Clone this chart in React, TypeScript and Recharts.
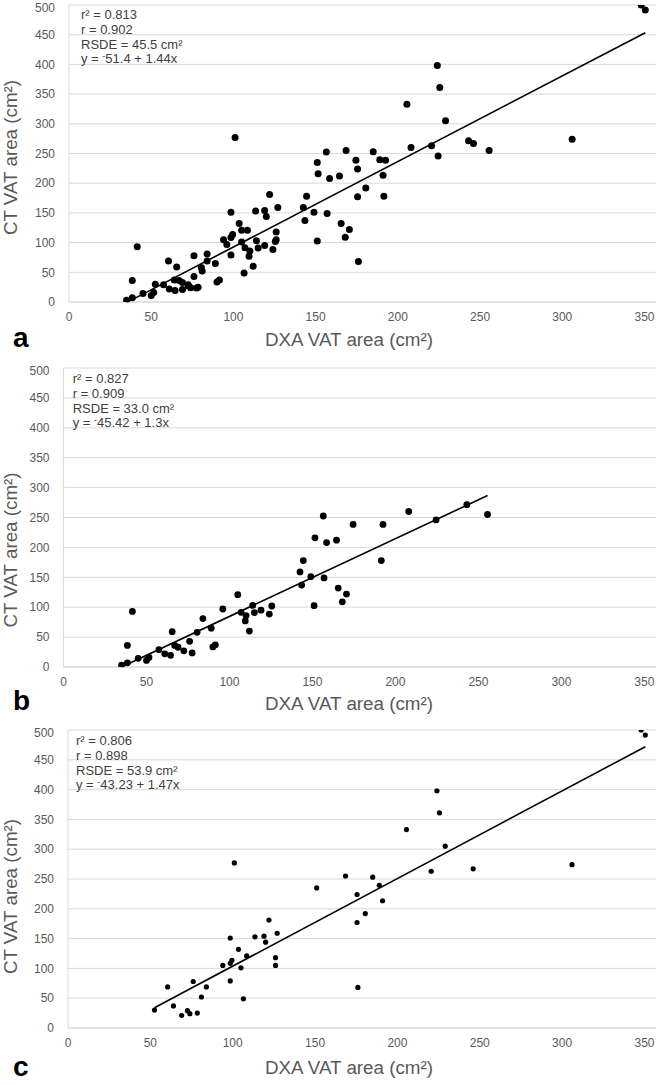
import React from 'react';
import { ScatterChart, Scatter, XAxis, YAxis, CartesianGrid, ReferenceLine, Label } from 'recharts';

const FONT = '"Liberation Sans", Arial, Helvetica, sans-serif';

const xTicks = [0, 50, 100, 150, 200, 250, 300, 350];
const yTicks = [0, 50, 100, 150, 200, 250, 300, 350, 400, 450, 500];

// Panel b: DXA VAT area (x) and CT VAT area (y)
const bDxa = [35, 38.5, 38.5, 41.5, 45, 50, 51.5, 57.5, 61, 64.5, 65.5, 67, 69, 72.5, 76, 77.5, 80.5, 84, 89, 90, 91.5, 96, 105, 107, 110, 109.5, 112, 114, 115, 119, 124, 125.5, 142.5, 144.5, 143.5, 149, 151, 151.5, 156.5, 157, 158.5, 164.5, 165.5, 168, 170.5, 174.5, 191.5, 192.5, 208, 224.5, 243, 255.5];
const bCt = [3, 7, 36, 93, 14.5, 11, 16, 29, 22, 19.5, 59, 36, 33, 27, 43, 23.5, 58, 81, 65, 33.5, 37, 97, 121, 91.5, 86, 77, 60, 103, 91, 95, 88.5, 102, 159, 178, 137, 151, 102.5, 216, 252.5, 149, 208, 212, 132, 109, 122, 238.5, 178, 238.5, 260, 246, 271.5, 255];

// Panel c
const cDxa = [52.5, 60.5, 64, 69, 72.5, 74, 78.5, 76, 81, 84, 94, 98.5, 98.5, 99.5, 98.5, 101, 103.5, 105, 106.5, 108.5, 113.5, 119, 120, 122, 127, 126, 126, 151, 168.5, 175.5, 175.5, 180.5, 185, 189, 191, 205.5, 220.5, 224, 225.5, 229, 246, 176, 306, 348, 350.5];
const cCt = [30, 69, 37, 21, 29, 24, 25, 78, 52, 69, 105, 79, 108.5, 113.5, 151, 277, 132, 101, 49, 121, 153, 154, 144, 181, 159, 118, 105, 235, 255, 224, 177, 192, 253, 239.5, 213.5, 333, 263, 398, 361, 305, 267, 68, 274, 500, 491.5];

const toPoints = (xs: number[], ys: number[]) => xs.map((x, i) => ({ x, y: ys[i] }));
const bPoints = toPoints(bDxa, bCt);
const cPoints = toPoints(cDxa, cCt);
// Panel a: all subjects
const aPoints = [...bPoints, ...cPoints];

const panelLetters = ['a', 'b', 'c'];
const r2Labels = ['0.813', '0.827', '0.806'];
const rLabels = ['0.902', '0.909', '0.898'];
const rsdeLabels = ['45.5', '33.0', '53.9'];
const intercepts = [-51.4, -45.42, -43.23];
const slopes = [1.44, 1.3, 1.47];
const interceptLabels = ['51.4', '45.42', '43.23'];
const slopeLabels = ['1.44', '1.3', '1.47'];

const xTitle = 'DXA VAT area (cm²)';
const yTitle = 'CT VAT area (cm²)';

const panelData = [aPoints, bPoints, cPoints];

// layout (pixels, page coordinates)
const layout = [
  { top: 0, height: 360, left: 69, right: 656, plotTop: 5, plotBottom: 302, dotR: 3.5, yTitleY: 157.5, statsX: 81, statsY: 19, letterY: 347, xTitleY: 346 },
  { top: 363, height: 362, left: 63.5, right: 656, plotTop: 368, plotBottom: 667, dotR: 3.4, yTitleY: 550, statsX: 72.7, statsY: 383, letterY: 710, xTitleY: 710 },
  { top: 725, height: 360, left: 68, right: 656, plotTop: 730, plotBottom: 1028, dotR: 2.6, yTitleY: 896.5, statsX: 76, statsY: 745, letterY: 1076, xTitleY: 1074 },
];

const Panel = ({ idx }: { idx: number }) => {
  const L = layout[idx];
  const data = panelData[idx];
  const xs = data.map((d) => d.x);
  const xMin = Math.min(...xs);
  const xMax = Math.max(...xs);
  const fit = [
    { x: xMin, y: intercepts[idx] + slopes[idx] * xMin },
    { x: xMax, y: intercepts[idx] + slopes[idx] * xMax },
  ];
  const plotTopRel = L.plotTop - L.top;
  const plotBottomRel = L.plotBottom - L.top;
  const xAxisHeight = L.height - plotBottomRel;
  const r = L.dotR;
  return (
    <div style={{ position: 'absolute', left: 0, top: L.top, width: 662, height: L.height }}>
      <ScatterChart
        width={662}
        height={L.height}
        margin={{ top: plotTopRel, right: 662 - L.right, bottom: 0, left: 0 }}
      >
        <CartesianGrid vertical={false} stroke="#d9d9d9" strokeWidth={1} />
        <XAxis
          type="number"
          dataKey="x"
          domain={[0, 357]}
          ticks={xTicks}
          allowDataOverflow
          tickLine={false}
          tickSize={0}
          tickMargin={10}
          axisLine={{ stroke: '#d9d9d9' }}
          tick={{ fill: '#595959', fontSize: 12, fontFamily: FONT }}
          height={xAxisHeight}
        >
          <Label
            content={() => (
              <text
                x={349}
                y={L.xTitleY - L.top}
                textAnchor="middle"
                fill="#595959"
                fontSize={18.8}
                fontFamily={FONT}
              >
                {xTitle}
              </text>
            )}
          />
        </XAxis>
        <YAxis
          type="number"
          dataKey="y"
          domain={[0, 500]}
          ticks={yTicks}
          allowDataOverflow
          tickLine={false}
          tickSize={0}
          tickMargin={14}
          axisLine={{ stroke: '#d9d9d9' }}
          tick={{ fill: '#595959', fontSize: 12, fontFamily: FONT }}
          width={L.left}
        >
          <Label
            content={() => (
              <text
                transform={`translate(17, ${L.yTitleY - L.top}) rotate(-90)`}
                textAnchor="middle"
                fill="#595959"
                fontSize={18.8}
                fontFamily={FONT}
              >
                {yTitle}
              </text>
            )}
          />
        </YAxis>
        <ReferenceLine segment={fit} stroke="#000" strokeWidth={1.6} ifOverflow="visible" />
        <Scatter
          data={data}
          fill="#000"
          isAnimationActive={false}
          shape={(p: any) => <circle cx={p.cx} cy={p.cy} r={r} fill="#000" />}
        />
      </ScatterChart>
    </div>
  );
};

const Overlay = () => (
  <svg
    width={662}
    height={1085}
    style={{ position: 'absolute', left: 0, top: 0, pointerEvents: 'none' }}
  >
    {layout.map((L, i) => (
      <g key={i} fontFamily={FONT}>
        <text x={L.statsX} y={L.statsY} fontSize={13} fill="#404040">
          {`r² = ${r2Labels[i]}`}
        </text>
        <text x={L.statsX} y={L.statsY + 14.8} fontSize={13} fill="#404040">
          {`r = ${rLabels[i]}`}
        </text>
        <text x={L.statsX} y={L.statsY + 29.6} fontSize={13} fill="#404040">
          {`RSDE = ${rsdeLabels[i]} cm²`}
        </text>
        <text x={L.statsX} y={L.statsY + 44.4} fontSize={13} fill="#404040">
          <tspan>{'y = '}</tspan>
          <tspan fontSize={9} dy={-4}>{'-'}</tspan>
          <tspan dy={4}>{`${interceptLabels[i]} + ${slopeLabels[i]}x`}</tspan>
        </text>
        <text x={13} y={L.letterY} fontSize={28} fontWeight="bold" fill="#000">
          {panelLetters[i]}
        </text>
      </g>
    ))}
  </svg>
);

export default function App() {
  return (
    <div style={{ position: 'absolute', left: 0, top: 0, width: 662, height: 1085, background: '#fff', overflow: 'hidden' }}>
      {[0, 1, 2].map((i) => (
        <Panel key={i} idx={i} />
      ))}
      <Overlay />
    </div>
  );
}
